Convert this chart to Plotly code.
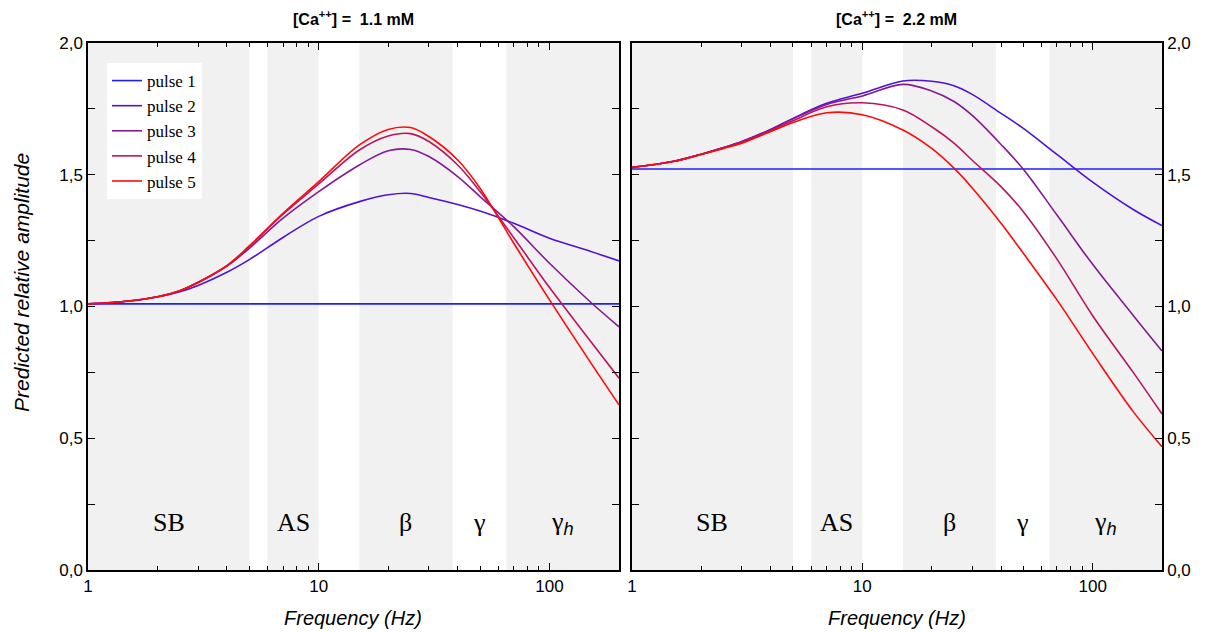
import math
import plotly.graph_objects as go

# ---------------- data ----------------
freqs = [1, 1.5, 2, 2.5, 3, 4, 5, 7, 10, 15, 20, 25, 30, 40, 50, 70, 100, 150, 200]

pulse_names = ["pulse 1", "pulse 2", "pulse 3", "pulse 4", "pulse 5"]
pulse_colors = ["#1e1eff", "#4f12d6", "#861896", "#ba1560", "#ff0a0a"]

# [Ca++] = 1.1 mM
left_p1 = [1.01] * 19
left_p2 = [1.01, 1.02, 1.036, 1.056, 1.08, 1.13, 1.178, 1.262, 1.342, 1.398, 1.424, 1.429, 1.414, 1.387, 1.362, 1.316, 1.259, 1.21, 1.173]
left_p3 = [1.01, 1.021, 1.037, 1.06, 1.09, 1.153, 1.221, 1.335, 1.436, 1.537, 1.591, 1.596, 1.569, 1.493, 1.417, 1.303, 1.164, 1.018, 0.923]
left_p4 = [1.01, 1.021, 1.037, 1.06, 1.092, 1.155, 1.228, 1.35, 1.465, 1.594, 1.647, 1.656, 1.626, 1.537, 1.436, 1.261, 1.072, 0.87, 0.728]
left_p5 = [1.01, 1.021, 1.037, 1.06, 1.092, 1.155, 1.23, 1.354, 1.474, 1.613, 1.672, 1.679, 1.645, 1.556, 1.449, 1.24, 1.025, 0.79, 0.627]

# [Ca++] = 2.2 mM
right_p1 = [1.522] * 19
right_p2 = [1.528, 1.55, 1.578, 1.603, 1.626, 1.672, 1.714, 1.771, 1.809, 1.856, 1.855, 1.838, 1.805, 1.733, 1.676, 1.577, 1.472, 1.368, 1.307]
right_p3 = [1.528, 1.55, 1.578, 1.603, 1.626, 1.672, 1.712, 1.767, 1.799, 1.843, 1.818, 1.778, 1.725, 1.615, 1.521, 1.347, 1.16, 0.966, 0.831]
right_p4 = [1.528, 1.55, 1.578, 1.602, 1.624, 1.668, 1.705, 1.758, 1.773, 1.746, 1.682, 1.62, 1.555, 1.455, 1.36, 1.18, 0.965, 0.75, 0.592]
right_p5 = [1.528, 1.55, 1.577, 1.6, 1.62, 1.664, 1.698, 1.735, 1.728, 1.67, 1.60, 1.525, 1.45, 1.316, 1.202, 1.025, 0.822, 0.601, 0.468]

panel_titles = ["[Ca<sup>++</sup>] =  1.1 mM", "[Ca<sup>++</sup>] =  2.2 mM"]

band_lo = [1, 6, 15, 38, 65]
band_hi = [5, 10, 38, 65, 200]
band_shaded = [True, True, True, False, True]
band_labels = ["SB", "AS", "β", "γ",
               "γ<sub><span style='font-family:Liberation Sans;font-style:italic'>h</span></sub>"]

x_tick_vals = [1, 10, 100]
x_tick_text = ["1", "10", "100"]
x_minor_vals = [2, 3, 4, 5, 6, 7, 8, 9, 20, 30, 40, 50, 60, 70, 80, 90, 200]
y_tick_vals = [0, 0.5, 1.0, 1.5, 2.0]
y_tick_text = ["0,0", "0,5", "1,0", "1,5", "2,0"]
y_minor_vals = [0.25, 0.75, 1.25, 1.75]

left_series = [left_p1, left_p2, left_p3, left_p4, left_p5]
right_series = [right_p1, right_p2, right_p3, right_p4, right_p5]

# ---------------- figure ----------------
fig = go.Figure()
band_color = "#f1f1f1"
SANS = "Liberation Sans, Arial, sans-serif"
SERIF = "Liberation Serif, Times New Roman, serif"

for xa, ya in [("x", "y"), ("x2", "y2")]:
    for lo, hi, sh in zip(band_lo, band_hi, band_shaded):
        if not sh:
            continue
        fig.add_trace(go.Scatter(
            x=[lo, hi, hi, lo, lo], y=[0, 0, 2, 2, 0], mode="lines",
            fill="toself", fillcolor=band_color,
            line=dict(width=0, color=band_color),
            hoverinfo="skip", showlegend=False, xaxis=xa, yaxis=ya))

for i, (name, col) in enumerate(zip(pulse_names, pulse_colors)):
    fig.add_trace(go.Scatter(
        x=freqs, y=left_series[i], mode="lines", name=name,
        line=dict(color=col, width=1.6, shape="spline", smoothing=1.0),
        legendgroup=name, showlegend=True, xaxis="x", yaxis="y"))
    fig.add_trace(go.Scatter(
        x=freqs, y=right_series[i], mode="lines", name=name,
        line=dict(color=col, width=1.6, shape="spline", smoothing=1.0),
        legendgroup=name, showlegend=False, xaxis="x2", yaxis="y2"))

dom1 = [0.0, 0.4944]
dom2 = [0.5065, 1.0]


def xaxis_cfg(dom, anchor):
    return dict(
        type="log", domain=dom, anchor=anchor, range=[0, math.log10(200)],
        tickmode="array", tickvals=x_tick_vals, ticktext=x_tick_text,
        ticks="inside", ticklen=7, tickwidth=1.3, tickcolor="black",
        minor=dict(tickmode="array", tickvals=x_minor_vals, ticks="inside",
                   ticklen=4, tickwidth=1.2, tickcolor="black", showgrid=False),
        showline=True, linecolor="black", linewidth=1.5, mirror="ticks",
        showgrid=False, zeroline=False,
        tickfont=dict(family=SANS, size=17, color="black"))


def yaxis_cfg(anchor, side):
    return dict(
        domain=[0, 1], anchor=anchor, side=side, range=[0, 2],
        tickmode="array", tickvals=y_tick_vals, ticktext=y_tick_text,
        ticks="inside", ticklen=7, tickwidth=1.3, tickcolor="black",
        minor=dict(tickmode="array", tickvals=y_minor_vals, ticks="inside",
                   ticklen=7, tickwidth=1.2, tickcolor="black", showgrid=False),
        showline=True, linecolor="black", linewidth=1.5, mirror="ticks",
        showgrid=False, zeroline=False,
        tickfont=dict(family=SANS, size=17, color="black"))


annotations = []
for dom, title in zip([dom1, dom2], panel_titles):
    annotations.append(dict(
        text="<b>" + title + "</b>", xref="paper", yref="paper",
        x=(dom[0] + dom[1]) / 2, y=1.047, xanchor="center", yanchor="middle",
        showarrow=False, font=dict(family=SANS, size=16, color="black")))
    annotations.append(dict(
        text="<i>Frequency (Hz)</i>", xref="paper", yref="paper",
        x=(dom[0] + dom[1]) / 2, y=-0.092, xanchor="center", yanchor="middle",
        showarrow=False, font=dict(family=SANS, size=20, color="black")))

annotations.append(dict(
    text="<i>Predicted relative amplitude</i>", xref="paper", yref="paper",
    x=-0.0615, y=0.5465, xanchor="center", yanchor="middle", textangle=-90,
    showarrow=False, font=dict(family=SANS, size=21, color="black")))

for xr, yr in [("x", "y"), ("x2", "y2")]:
    for lo, hi, lab in zip(band_lo, band_hi, band_labels):
        annotations.append(dict(
            text=lab, xref=xr, yref=yr,
            x=(math.log10(lo) + math.log10(hi)) / 2, y=0.18,
            xanchor="center", yanchor="middle", showarrow=False,
            font=dict(family=SERIF, size=26, color="black")))

# page body has an 8px margin, so the figure is drawn 8px smaller and offset
fig.update_layout(
    width=1208, height=624,
    margin=dict(l=80, r=54, t=35, b=62),
    paper_bgcolor="white", plot_bgcolor="white",
    xaxis=xaxis_cfg(dom1, "y"),
    yaxis=yaxis_cfg("x", "left"),
    xaxis2=xaxis_cfg(dom2, "y2"),
    yaxis2=yaxis_cfg("x2", "right"),
    showlegend=True,
    legend=dict(x=0.0177, y=0.962, xanchor="left", yanchor="top",
                bgcolor="white", borderwidth=0, tracegroupgap=0,
                font=dict(family=SERIF, size=17, color="black")),
    annotations=annotations,
)

fig.write_html("out.html")
